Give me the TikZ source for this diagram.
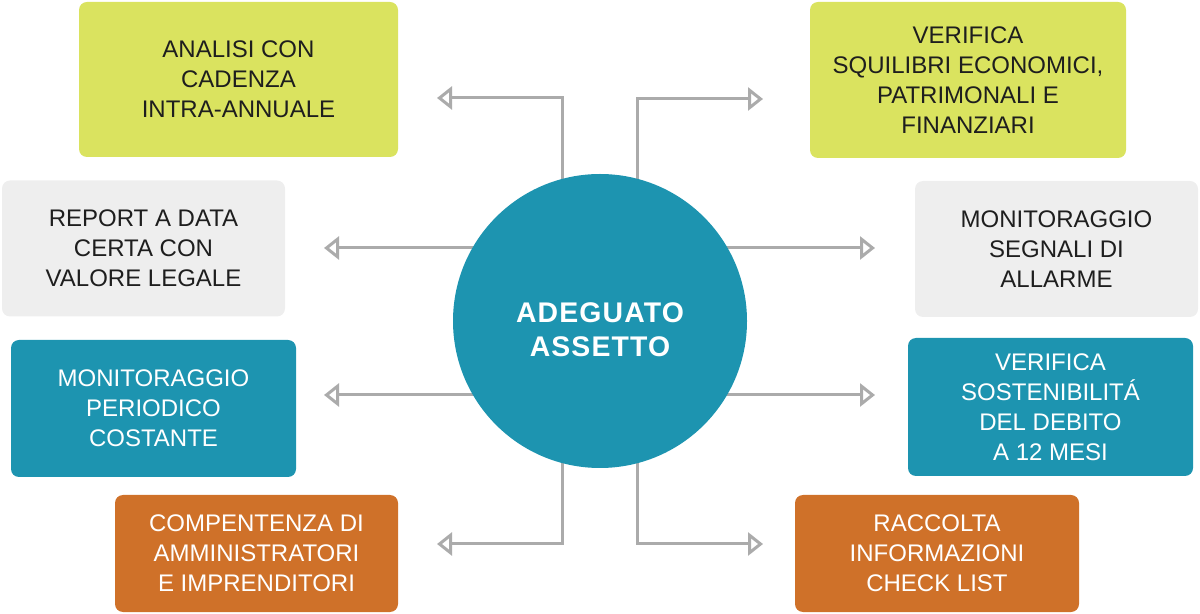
\documentclass[tikz,border=0pt]{standalone}
\usepackage{fontspec}
\setmainfont{Liberation Sans}
\newfontfamily\titlefont{Liberation Sans}[LetterSpace=4]
\usetikzlibrary{arrows.meta,calc,backgrounds}
\definecolor{ylw}{HTML}{DAE35F}
\definecolor{gry}{HTML}{EEEEEE}
\definecolor{tea}{HTML}{1D94B0}
\definecolor{org}{HTML}{CF7129}
\definecolor{lin}{HTML}{ABABAB}
\definecolor{ink}{HTML}{1E1E1E}
\begin{document}
\begin{tikzpicture}[x=0.5pt,y=-0.5pt,
  box/.style={rounded corners=4pt, inner sep=0pt, align=center,
    font=\fontsize{12}{15}\selectfont},
  ybox/.style={box, fill=ylw, text=ink},
  gbox/.style={box, fill=gry, text=ink},
  tbox/.style={box, fill=tea, text=white},
  obox/.style={box, fill=org, text=white},
  conn/.style={draw=lin, line width=1.5pt,
    -{Triangle[open, length=7.5pt, width=11.5pt, fill=white]}}]
\useasboundingbox (0,0) rectangle (1200,614);

\node[ybox, minimum width=159.5pt, minimum height=77.5pt] (b1) at (238.5,79.5)
  {ANALISI CON\\CADENZA\\INTRA-ANNUALE};
\node[ybox, minimum width=158pt, minimum height=78pt] (b2) at (968,80)
  {VERIFICA\\SQUILIBRI ECONOMICI,\\PATRIMONALI E\\FINANZIARI};
\node[gbox, minimum width=141.5pt, minimum height=68pt] (b3) at (143.5,248.5)
  {REPORT A DATA\\CERTA CON\\VALORE LEGALE};
\node[gbox, minimum width=141.5pt, minimum height=68pt] (b4) at (1056.5,249)
  {MONITORAGGIO\\SEGNALI DI\\ALLARME};
\node[tbox, minimum width=142.5pt, minimum height=68.5pt] (b5) at (153.5,408.5)
  {MONITORAGGIO\\PERIODICO\\COSTANTE};
\node[tbox, minimum width=142.5pt, minimum height=69pt] (b6) at (1050.5,407)
  {VERIFICA\\SOSTENIBILITÁ\\DEL DEBITO\\A 12 MESI};
\node[obox, minimum width=141.5pt, minimum height=58.5pt] (b7) at (256.5,553.5)
  {COMPENTENZA DI\\AMMINISTRATORI\\E IMPRENDITORI};
\node[obox, minimum width=142pt, minimum height=58.5pt] (b8) at (937,553.5)
  {RACCOLTA\\INFORMAZIONI\\CHECK LIST};

\node[circle, fill=tea, minimum size=147pt, inner sep=0pt] (c) at (600,321) {};
\node[text=white, align=center, inner sep=0pt,
  font=\titlefont\bfseries\fontsize{14.2}{17}\selectfont]
  (ct) at ($(c.center)+(0,9)$) {ADEGUATO\\ASSETTO};

\coordinate (tl) at (437,98);
\coordinate (tr) at (763,99);
\coordinate (l1) at (324,248);
\coordinate (l2) at (324,395);
\coordinate (r1) at (875,248);
\coordinate (r2) at (875,395);
\coordinate (bl) at (437,544);
\coordinate (br) at (763,544);

\begin{scope}[on background layer]
\draw[conn] ($(c.center)+(-38,0)$) |- (tl);
\draw[conn] ($(c.center)+(37,0)$) |- (tr);
\draw[conn] (c.center |- l1) -- (l1);
\draw[conn] (c.center |- l2) -- (l2);
\draw[conn] (c.center |- r1) -- (r1);
\draw[conn] (c.center |- r2) -- (r2);
\draw[conn] ($(c.center)+(-38,0)$) |- (bl);
\draw[conn] ($(c.center)+(37,0)$) |- (br);
\end{scope}
\end{tikzpicture}
\end{document}
